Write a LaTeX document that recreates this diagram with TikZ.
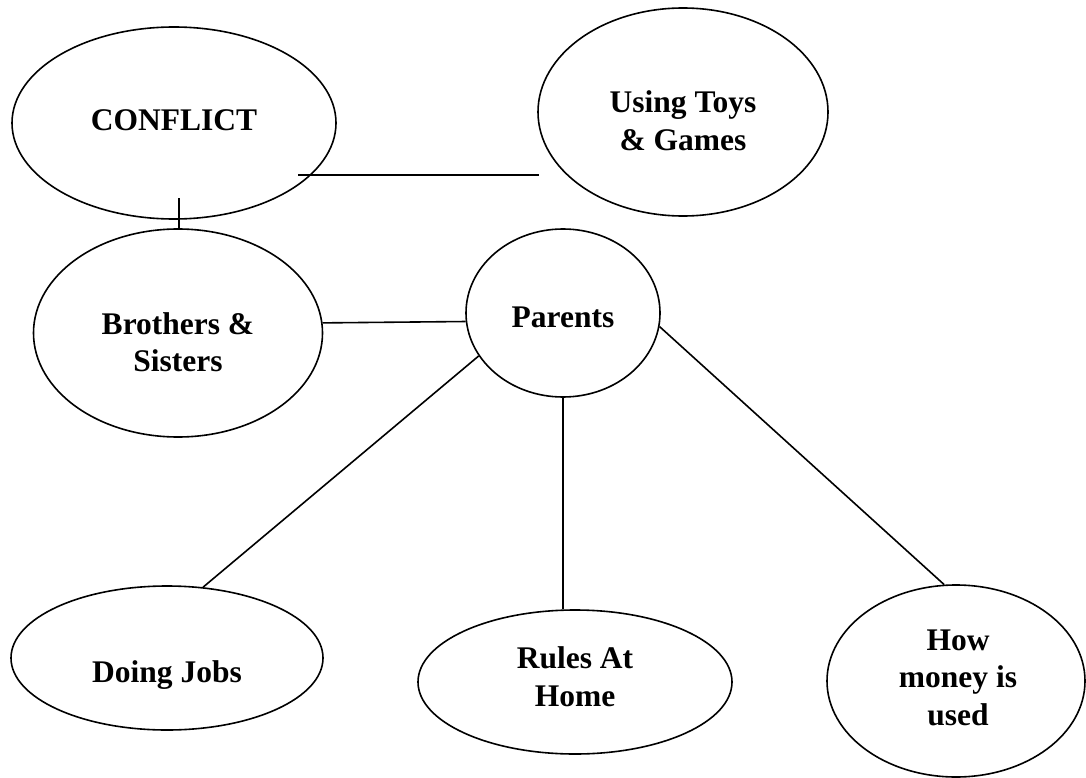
\documentclass[tikz,border=0pt]{standalone}
\usepackage{fontspec}
\setmainfont{Liberation Serif}
\usetikzlibrary{shapes.geometric}
\begin{document}
\begin{tikzpicture}[x=1pt, y=-1pt,
  bubble/.style 2 args={draw, ellipse, line width=1.6pt, inner sep=0pt,
    minimum width=#1, minimum height=#2},
  caption/.style={font=\bfseries\fontsize{31.5}{37.5}\selectfont,
    align=center, inner sep=0pt},
  link/.style={line width=1.6pt}]

% canvas
\useasboundingbox (0,0) rectangle (1086,778);
\fill[white] (0,0) rectangle (1086,778);

% bubbles
\node[bubble={324pt}{192pt}] (conflict) at (174,123) {};
\node[bubble={290pt}{208pt}] (toys)     at (683,112) {};
\node[bubble={289pt}{208pt}] (siblings) at (178,333) {};
\node[bubble={194pt}{168pt}] (parents)  at (563,313) {};
\node[bubble={312pt}{144pt}] (jobs)     at (167,658) {};
\node[bubble={314pt}{144pt}] (rules)    at (575,682) {};
\node[bubble={258pt}{192pt}] (money)    at (956,681) {};

% bubble texts
\node[caption] (conflictTxt) at (174,120.5) {CONFLICT};
\node[caption] (toysTxt)     at (683,120.5) {Using Toys\\\& Games};
\node[caption] (siblingsTxt) at (178,342)   {Brothers \&\\Sisters};
\node[caption] (parentsTxt)  at (563,317.5) {Parents};
\node[caption] (jobsTxt)     at (167,675.5) {Doing Jobs};
\node[caption] (rulesTxt)    at (575,676.5) {Rules At\\Home};
\node[caption] (moneyTxt)    at (958,677.5) {How\\money is\\used};

% loose ends of the two short strokes
\coordinate (barStart) at (298,175);
\coordinate (barEnd)   at (539,175);
\coordinate (tickTop)  at (179,198);

% connectors
\draw[link] (barStart) -- (barEnd);
\draw[link] (tickTop) -- (tickTop |- siblings.north);
\draw[link] (siblings.4.4) -- (parents.185.3);
\draw[link] (parents.207.6) -- (jobs.63.5);
\draw[link] (parents.south) -- (parents.south |- rules.north);
\draw[link] (parents.352.9) -- (money.97);
\end{tikzpicture}
\end{document}
